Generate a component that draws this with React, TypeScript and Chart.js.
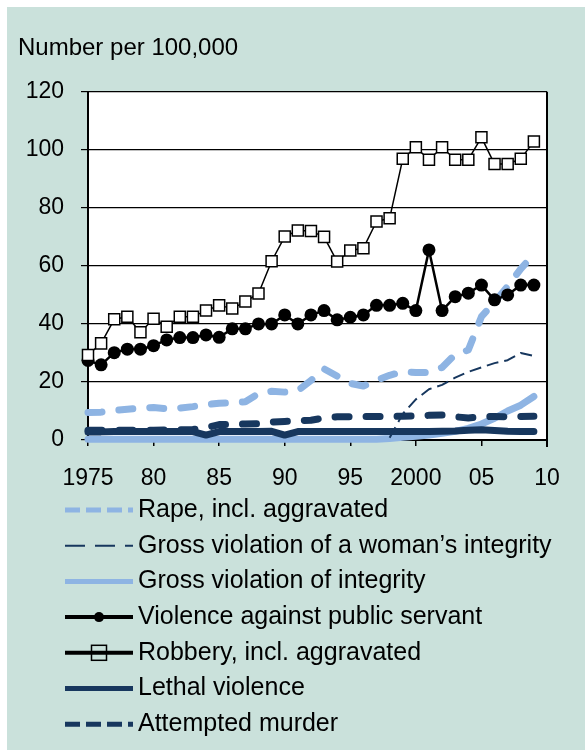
import React, { useEffect, useRef } from 'react';
import { Chart, registerables } from 'chart.js';

Chart.register(...registerables);

const FONT = '"Liberation Sans", Arial, sans-serif';

const titleText = 'Number per 100,000';

const years = [
  1975, 1976, 1977, 1978, 1979, 1980, 1981, 1982, 1983, 1984,
  1985, 1986, 1987, 1988, 1989, 1990, 1991, 1992, 1993, 1994,
  1995, 1996, 1997, 1998, 1999, 2000, 2001, 2002, 2003, 2004,
  2005, 2006, 2007, 2008, 2009,
];

const seriesLabels = [
  'Rape, incl. aggravated',
  'Gross violation of a woman\u2019s integrity',
  'Gross violation of integrity',
  'Violence against public servant',
  'Robbery, incl. aggravated',
  'Lethal violence',
  'Attempted murder',
];

const rape = [
  9.5, 9.6, 10.2, 10.6, 11, 11.2, 10.8, 11, 11.5, 12.2,
  12.7, 12.8, 13.2, 16, 16.8, 16.5, 17, 20.5, 24.5, 22,
  19.5, 18.6, 20.6, 22.3, 23.5, 23.3, 23.3, 25, 29.5, 31,
  42.5, 47.5, 53, 59, 64,
];

const womansIntegrity = [
  null, null, null, null, null, null, null, null, null, null,
  null, null, null, null, null, null, null, null, null, null,
  null, null, null, 0.8, 9, 14, 17.5, 19, 21.5, 23.5,
  25, 26.5, 27.5, 30, 29,
];

const grossIntegrity = [
  0.3, 0.3, 0.3, 0.3, 0.3, 0.3, 0.3, 0.3, 0.3, 0.3,
  0.3, 0.3, 0.3, 0.3, 0.3, 0.3, 0.3, 0.3, 0.3, 0.3,
  0.3, 0.3, 0.3, 0.5, 0.9, 1.3, 1.7, 2.3, 3.0, 4.0,
  5.5, 7.5, 10, 12, 15,
];

const violencePublicServant = [
  27.4, 25.9, 30.1, 31.3, 31.3, 32.5, 34.5, 35.3, 35.3, 36.2,
  35.4, 38.3, 38.3, 40, 40, 43.1, 40, 43.1, 44.6, 41.4,
  42.3, 43.1, 46.4, 46.4, 47.1, 44.6, 65.5, 44.6, 49.4, 50.6,
  53.4, 48.3, 50, 53.4, 53.4,
];

const robbery = [
  29.3, 33.3, 41.6, 42.5, 37.1, 41.8, 39, 42.5, 42.5, 44.6,
  46.4, 45.3, 47.7, 50.5, 61.6, 70.1, 72.2, 72, 70, 61.5,
  65.3, 66.1, 75.3, 76.4, 96.9, 100.9, 96.6, 100.9, 96.6, 96.6,
  104.3, 95.1, 95.1, 96.9, 102.9,
];

const lethal = [
  2.8, 2.8, 2.9, 2.9, 2.9, 2.9, 2.9, 2.9, 2.9, 1.7,
  2.9, 2.9, 2.9, 2.9, 3.0, 1.7, 2.9, 2.9, 2.9, 2.9,
  2.9, 2.9, 2.9, 2.9, 2.9, 2.9, 2.9, 3.0, 3.1, 3.4,
  3.5, 3.3, 3.0, 2.9, 2.9,
];

const attemptedMurder = [
  3.4, 3.4, 3.4, 3.4, 3.4, 3.4, 3.5, 3.5, 3.6, 4.2,
  5.3, 5.4, 5.5, 5.6, 6.2, 6.4, 6.7, 6.8, 7.6, 8.0,
  8.0, 8.1, 8.1, 8.1, 8.2, 8.3, 8.5, 8.6, 8.0, 7.6,
  8.0, 8.1, 8.0, 8.1, 8.2,
];

const xTickValues = [1975, 1980, 1985, 1990, 1995, 2000, 2005, 2010];
const xTickLabels = ['1975', '80', '85', '90', '95', '2000', '05', '10'];
const yTickValues = [0, 20, 40, 60, 80, 100, 120];

const LIGHT_BLUE = '#8EB4E3';
const NAVY = '#17375E';
const TEAL = '#CAE1DB';

const toPoints = (vals: (number | null)[]) => years.map((y, i) => ({ x: y, y: vals[i] }));

// legend sample styles (style only)
const legendStyles = [
  { width: 5, dash: [15, 6], marker: null },
  { width: 2, dash: [20, 10], marker: null },
  { width: 5, dash: [], marker: null },
  { width: 4, dash: [], marker: 'circle' },
  { width: 4, dash: [], marker: 'square' },
  { width: 5, dash: [], marker: null },
  { width: 5, dash: [15, 6], marker: null },
];

const bgPlugin = {
  id: 'bgPlugin',
  beforeDraw(chart: any) {
    const { ctx, chartArea, width, height } = chart;
    ctx.save();
    ctx.fillStyle = TEAL;
    ctx.fillRect(0, 0, width, height);
    ctx.fillStyle = '#ffffff';
    ctx.fillRect(chartArea.left, chartArea.top, chartArea.right - chartArea.left, chartArea.bottom - chartArea.top);
    ctx.restore();
  },
  afterDraw(chart: any) {
    const { ctx, chartArea } = chart;
    ctx.save();
    ctx.strokeStyle = '#000';
    ctx.lineWidth = 2;
    ctx.beginPath();
    ctx.moveTo(chartArea.right, chartArea.top);
    ctx.lineTo(chartArea.right, chartArea.bottom + 7);
    ctx.stroke();
    ctx.restore();
  },
};

const legendPlugin = {
  id: 'stackLegend',
  afterDraw(chart: any) {
    const { ctx, chartArea } = chart;
    const x0 = 58;
    const x1 = 126;
    const tx = 131;
    const top = chartArea.bottom + 70;
    chart.data.datasets.forEach((ds: any, i: number) => {
      const y = top + i * 35.7;
      const st = legendStyles[i];
      ctx.save();
      ctx.strokeStyle = ds.borderColor;
      ctx.lineWidth = st.width;
      ctx.setLineDash(st.dash);
      ctx.lineCap = 'butt';
      ctx.beginPath();
      ctx.moveTo(x0, y);
      ctx.lineTo(x1, y);
      ctx.stroke();
      ctx.setLineDash([]);
      const cx = (x0 + x1) / 2;
      if (st.marker === 'circle') {
        ctx.fillStyle = '#000';
        ctx.beginPath();
        ctx.arc(cx, y, 5, 0, Math.PI * 2);
        ctx.fill();
      } else if (st.marker === 'square') {
        ctx.lineWidth = 1.5;
        ctx.strokeRect(cx - 7.5, y - 7.5, 15, 15);
      }
      ctx.fillStyle = '#000';
      ctx.font = `25px ${FONT}`;
      ctx.textBaseline = 'middle';
      ctx.textAlign = 'left';
      ctx.fillText(ds.label, tx, y);
      ctx.restore();
    });
  },
};

export default function App() {
  const canvasRef = useRef<HTMLCanvasElement | null>(null);

  useEffect(() => {
    document.body.style.margin = '0';
    const canvas = canvasRef.current;
    if (!canvas) return;
    const common = { pointRadius: 0, tension: 0, fill: false, clip: 10, borderJoinStyle: 'round' as const };
    const chart = new Chart(canvas, {
      type: 'line',
      data: {
        datasets: [
          { ...common, label: seriesLabels[0], data: toPoints(rape), borderColor: LIGHT_BLUE, borderWidth: 7, borderDash: [14, 17], borderCapStyle: 'round', order: 6 },
          { ...common, label: seriesLabels[1], data: toPoints(womansIntegrity), borderColor: NAVY, borderWidth: 2, borderDash: [12, 6], order: 0 },
          { ...common, label: seriesLabels[2], data: toPoints(grossIntegrity), borderColor: LIGHT_BLUE, borderWidth: 7, borderCapStyle: 'round', order: 5 },
          { ...common, label: seriesLabels[3], data: toPoints(violencePublicServant), borderColor: '#000', borderWidth: 2.5, pointRadius: 6.5, pointStyle: 'circle', pointBackgroundColor: '#000', pointBorderColor: '#000', pointBorderWidth: 0, order: 4 },
          { ...common, label: seriesLabels[4], data: toPoints(robbery), borderColor: '#000', borderWidth: 1.5, pointRadius: 7.8, pointStyle: 'rect', pointBackgroundColor: '#fff', pointBorderColor: '#000', pointBorderWidth: 1.5, order: 3 },
          { ...common, label: seriesLabels[5], data: toPoints(lethal), borderColor: NAVY, borderWidth: 7, borderCapStyle: 'round', order: 2 },
          { ...common, label: seriesLabels[6], data: toPoints(attemptedMurder), borderColor: NAVY, borderWidth: 7, borderDash: [14, 17], borderCapStyle: 'round', order: 1 },
        ] as any,
      },
      options: {
        animation: false,
        responsive: false,
        devicePixelRatio: 1,
        events: [],
        layout: { padding: { left: 11, right: 38, top: 0, bottom: 250 } },
        plugins: {
          legend: { display: false },
          tooltip: { enabled: false },
          title: {
            display: true,
            text: titleText,
            align: 'start',
            color: '#000',
            font: { family: FONT, size: 24, weight: 'normal' },
            padding: { top: 27, bottom: 29 },
          },
        },
        scales: {
          x: {
            type: 'linear',
            min: 1975,
            max: 2010,
            afterBuildTicks: (s: any) => {
              s.ticks = xTickValues.map((v) => ({ value: v }));
            },
            afterFit: (s: any) => {
              s.height = 60;
            },
            ticks: {
              autoSkip: false,
              maxRotation: 0,
              color: '#000',
              padding: 19,
              font: { family: FONT, size: 23 },
              callback: (_v: any, i: number) => xTickLabels[i],
            },
            grid: { drawOnChartArea: false, drawTicks: true, tickLength: 6, color: '#000', lineWidth: 1.5 },
            border: { color: '#000', width: 2 },
          },
          y: {
            min: 0,
            max: 120,
            afterBuildTicks: (s: any) => {
              s.ticks = yTickValues.map((v) => ({ value: v }));
            },
            afterFit: (s: any) => {
              s.width = 70;
            },
            ticks: {
              color: '#000',
              padding: 17,
              font: { family: FONT, size: 23 },
            },
            grid: { color: '#000', lineWidth: 1.2, tickLength: 7 },
            border: { color: '#000', width: 2 },
          },
        },
      } as any,
      plugins: [bgPlugin, legendPlugin],
    });
    return () => chart.destroy();
  }, []);

  return (
    <div style={{ width: 585, height: 750, background: '#fff', paddingLeft: 7, paddingTop: 7, boxSizing: 'border-box' }}>
      <canvas ref={canvasRef} width={578} height={743} style={{ display: 'block', width: 578, height: 743 }} />
    </div>
  );
}
